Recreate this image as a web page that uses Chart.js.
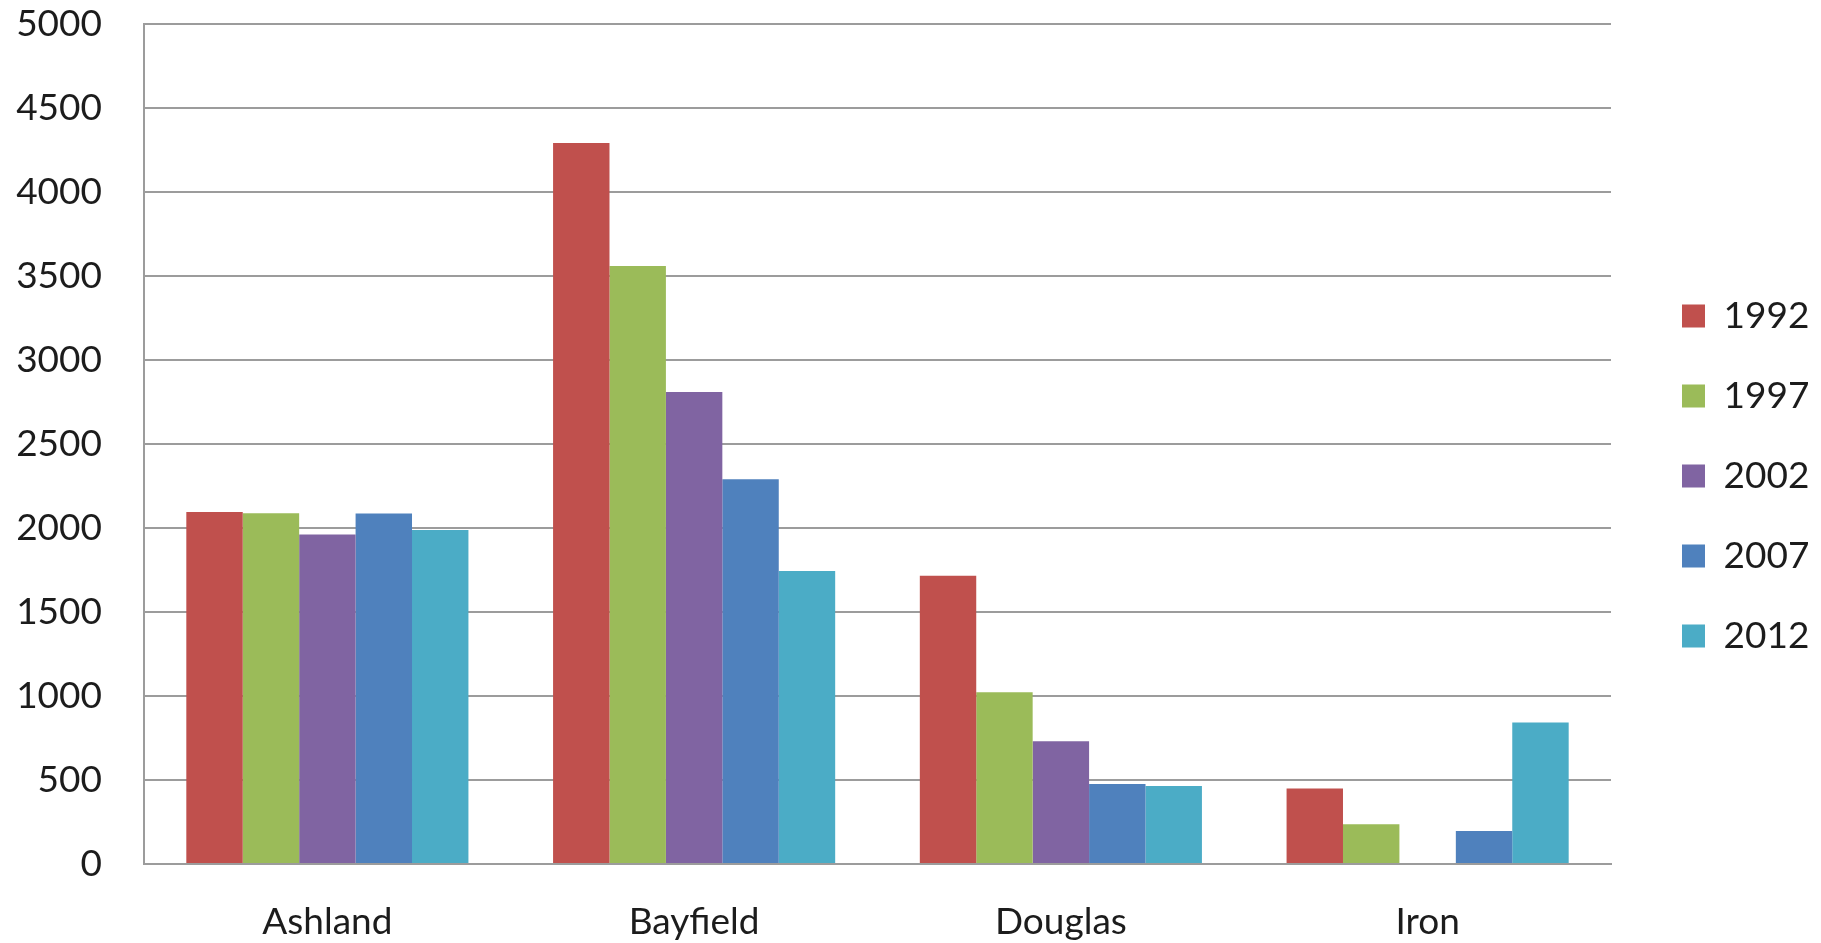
<!DOCTYPE html>
<html>
<head>
<meta charset="utf-8">
<script src="https://cdn.jsdelivr.net/npm/chart.js@4/dist/chart.umd.min.js"></script>
<style>
html,body{margin:0;padding:0;background:#ffffff;}
#wrap{width:1821px;height:943px;}
canvas{display:block;}
</style>
</head>
<body>
<div id="wrap"><canvas id="c" width="1821" height="943"></canvas></div>
<script>
const categories = ['Ashland', 'Bayfield', 'Douglas', 'Iron'];
const seriesNames = ['1992', '1997', '2002', '2007', '2012'];
const values1992 = [2095, 4292, 1716, 450];
const values1997 = [2088, 3560, 1022, 236];
const values2002 = [1962, 2810, 730, null];
const values2007 = [2086, 2290, 476, 196];
const values2012 = [1988, 1744, 465, 843];
const yTickValues = [0, 500, 1000, 1500, 2000, 2500, 3000, 3500, 4000, 4500, 5000];
const seriesColors = ['#C0504D', '#9BBB59', '#8064A2', '#4F81BD', '#4BACC6'];

const seriesValues = [values1992, values1997, values2002, values2007, values2012];
const FONT = "Lato, 'Open Sans', sans-serif";
const GRID = '#9c9c9c';
const TEXT = '#1c1c1c';

const legendPlacement = {
  id: 'legendPlacement',
  beforeLayout(chart) {
    const lg = chart.legend;
    if (lg && !lg.__fixed) {
      const fit = lg.fit;
      lg.fit = function () { fit.call(this); this.width = 210; };
      lg.__fixed = true;
    }
  },
  afterLayout(chart) {
    const lg = chart.legend;
    if (!lg) return;
    lg.left += 28; lg.right += 28;
    lg.top -= 7.5; lg.bottom -= 7.5;
  }
};

new Chart(document.getElementById('c'), {
  type: 'bar',
  data: {
    labels: categories,
    datasets: seriesNames.map((name, i) => ({
      label: name,
      data: seriesValues[i],
      backgroundColor: seriesColors[i],
      borderWidth: 0,
      categoryPercentage: 5 / 6.5,
      barPercentage: 1
    }))
  },
  options: {
    responsive: false,
    animation: false,
    devicePixelRatio: 1,
    layout: { padding: { top: 24, left: 0, right: 0, bottom: 0 } },
    plugins: {
      legend: {
        position: 'right',
        labels: {
          boxWidth: 23,
          boxHeight: 23,
          padding: 43,
          color: TEXT,
          font: { family: FONT, size: 37 }
        }
      },
      tooltip: { enabled: false }
    },
    scales: {
      x: {
        grid: { display: false, drawTicks: false },
        border: { display: true, color: GRID, width: 2 },
        ticks: { color: TEXT, padding: 36, font: { family: FONT, size: 37 } },
        afterFit(s) { s.height = 79; s.paddingLeft = 0; s.paddingRight = 0; }
      },
      y: {
        min: 0,
        max: 5000,
        afterBuildTicks(s) { s.ticks = yTickValues.map(v => ({ value: v })); },
        grid: { color: GRID, lineWidth: 2, drawTicks: false },
        border: { display: true, color: GRID, width: 2 },
        ticks: {
          color: TEXT, padding: 42, font: { family: FONT, size: 37 },
          callback: (v) => String(v)
        },
        afterFit(s) { s.width = 144; s.paddingTop = 0; s.paddingBottom = 0; }
      }
    }
  },
  plugins: [legendPlacement]
});
</script>
</body>
</html>
